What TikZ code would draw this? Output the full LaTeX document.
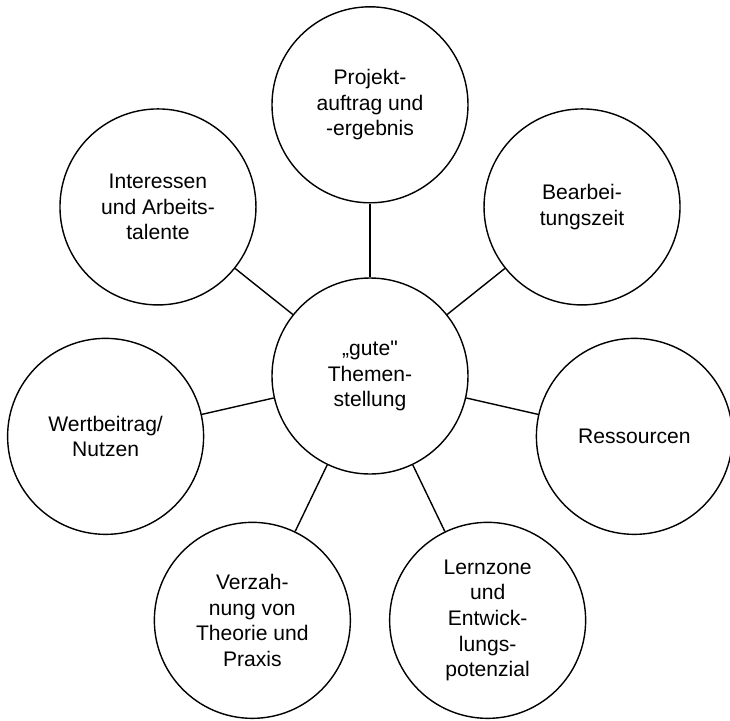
\documentclass[tikz,border=0pt]{standalone}
\usepackage{fontspec}
\setmainfont{Liberation Sans}
\usetikzlibrary{positioning}

\begin{document}
\begin{tikzpicture}[
 topic/.style={circle,draw,line width=1pt,minimum size=4.9cm,inner sep=0pt,align=center,font=\fontsize{15}{18.2}\selectfont},
 link/.style={line width=1pt}]
\useasboundingbox (-9.25,-8.6) rectangle (9.0,9.4);
\node[topic] (thema) at (0,0) {„gute\textquotedbl\\Themen-\\stellung};
% satellites, 360/7 degrees apart
\node[topic] (auftrag) at (90:6.78) {Projekt-\\auftrag und\\-ergebnis};
\node[topic] (zeit) at (38.57:6.78) {Bearbei-\\tungszeit};
\node[topic] (ress) at (-12.86:6.78) {Ressourcen};
\node[topic] (lern) at (-64.29:6.78) {Lernzone\\und\\Entwick-\\lungs-\\potenzial};
\node[topic] (verz) at (-115.71:6.78) {Verzah-\\nung von\\Theorie und\\Praxis};
\node[topic] (wert) at (192.86:6.78) {Wertbeitrag/\\Nutzen};
\node[topic] (inter) at (141.43:6.78) {Interessen\\und Arbeits-\\talente};
\draw[link] (thema) -- (auftrag);
\draw[link] (thema) -- (zeit);
\draw[link] (thema) -- (ress);
\draw[link] (thema) -- (lern);
\draw[link] (thema) -- (verz);
\draw[link] (thema) -- (wert);
\draw[link] (thema) -- (inter);
\end{tikzpicture}
\end{document}
